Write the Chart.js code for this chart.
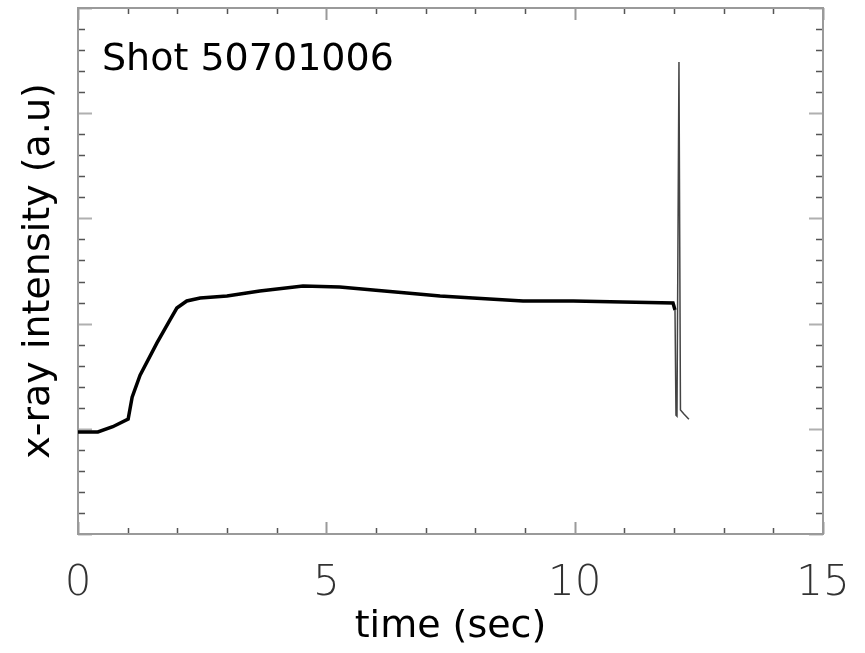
<!DOCTYPE html>
<html>
<head>
<meta charset="utf-8">
<script src="https://cdn.jsdelivr.net/npm/chart.js@4.4.1/dist/chart.umd.min.js"></script>
<style>
  html, body { margin: 0; padding: 0; background: #fff; }
  #wrap { width: 865px; height: 653px; }
</style>
</head>
<body>
<div id="wrap"><canvas id="xray"></canvas></div>
<script>
// time (sec) and intensity (a.u)
const times = [
  0.00, 0.40, 0.70, 1.01, 1.09, 1.25, 1.59, 1.85, 1.99, 2.19,
  2.46, 3.00, 3.66, 4.53, 5.27, 5.94, 6.62, 7.29, 7.95, 8.96,
  9.97, 10.97, 11.98, 12.02, 12.04, 12.06, 12.10, 12.13, 12.20, 12.30
];
const intensity = [
  0.970, 0.970, 1.020, 1.093, 1.300, 1.510, 1.816, 2.034, 2.148, 2.215,
  2.243, 2.262, 2.310, 2.357, 2.348, 2.319, 2.291, 2.262, 2.243, 2.215,
  2.215, 2.205, 2.196, 2.130, 1.130, 1.120, 4.487, 1.180, 1.140, 1.090
];
const xTicks = [0, 5, 10, 15];
const xRange = [0, 15];
const yRange = [0, 5];
const shotLabel = 'Shot 50701006';

const FONT = "'DejaVu Sans', sans-serif";

// IDL style box: frame plus inward ticks on all four sides
const frameTicks = {
  id: 'frameTicks',
  beforeDatasetsDraw(chart) {
    const { ctx, chartArea: a, scales: { x, y } } = chart;
    ctx.save();
    ctx.lineCap = 'butt';

    // x ticks, every 1 sec, major every 5
    for (let i = 0; i <= 15; i++) {
      const px = Math.round(x.getPixelForValue(i)) + 0.5;
      const major = i % 5 === 0;
      const len = major ? 12 : 6;
      ctx.strokeStyle = major ? '#9a9a9a' : '#555';
      ctx.lineWidth = major ? 2 : 1.5;
      ctx.beginPath();
      ctx.moveTo(px, a.bottom); ctx.lineTo(px, a.bottom - len);
      ctx.moveTo(px, a.top); ctx.lineTo(px, a.top + len);
      ctx.stroke();
    }
    // y ticks, every 0.2, major every 1
    for (let i = 0; i <= 25; i++) {
      const py = Math.round(y.getPixelForValue(i * 0.2)) + 0.5;
      const major = i % 5 === 0;
      const len = major ? 14 : 7;
      ctx.strokeStyle = major ? '#b0b0b0' : '#555';
      ctx.lineWidth = major ? 2 : 1.5;
      ctx.beginPath();
      ctx.moveTo(a.left, py); ctx.lineTo(a.left + len, py);
      ctx.moveTo(a.right, py); ctx.lineTo(a.right - len, py);
      ctx.stroke();
    }

    ctx.strokeStyle = '#9a9a9a';
    ctx.lineWidth = 2;
    ctx.strokeRect(a.left, a.top, a.right - a.left, a.bottom - a.top);
    ctx.restore();
  },
  afterDraw(chart) {
    const { ctx, chartArea: a } = chart;
    ctx.save();
    ctx.font = '38px ' + FONT;
    ctx.fillStyle = '#000';
    ctx.textBaseline = 'alphabetic';
    ctx.fillText(shotLabel, a.left + 24, a.top + 62);
    ctx.restore();
  }
};

new Chart(document.getElementById('xray'), {
  type: 'line',
  data: {
    datasets: [{
      data: times.map((t, i) => ({ x: t, y: intensity[i] })),
      borderColor: '#000',
      borderWidth: 3.5,
      pointRadius: 0,
      tension: 0,
      segment: {
        borderWidth: ctx => ctx.p0.parsed.x >= 12.0 ? 1.5 : 3.5,
        borderColor: ctx => ctx.p0.parsed.x >= 12.0 ? '#444' : '#000'
      }
    }]
  },
  options: {
    responsive: true,
    maintainAspectRatio: false,
    animation: false,
    layout: { padding: { top: 8, right: 42, left: 0, bottom: 0 } },
    plugins: { legend: { display: false }, tooltip: { enabled: false } },
    scales: {
      x: {
        type: 'linear',
        min: xRange[0],
        max: xRange[1],
        afterFit: s => { s.height = 119; s.paddingLeft = 0; s.paddingRight = 0; },
        afterBuildTicks: s => { s.ticks = xTicks.map(v => ({ value: v })); },
        grid: { display: false, drawTicks: false },
        border: { display: false },
        ticks: { font: { family: FONT, size: 42, weight: '200' }, color: '#333', padding: 25, maxRotation: 0, autoSkip: false },
        title: { display: true, text: 'time (sec)', font: { family: FONT, size: 38 }, color: '#000', padding: { top: 0, bottom: 3 } }
      },
      y: {
        type: 'linear',
        min: yRange[0],
        max: yRange[1],
        afterFit: s => { s.width = 78; },
        grid: { display: false, drawTicks: false },
        border: { display: false },
        ticks: { display: false },
        title: { display: true, text: 'x-ray intensity (a.u)', font: { family: FONT, size: 38 }, color: '#000', padding: { top: 16, bottom: 0 } }
      }
    }
  },
  plugins: [frameTicks]
});
</script>
</body>
</html>
